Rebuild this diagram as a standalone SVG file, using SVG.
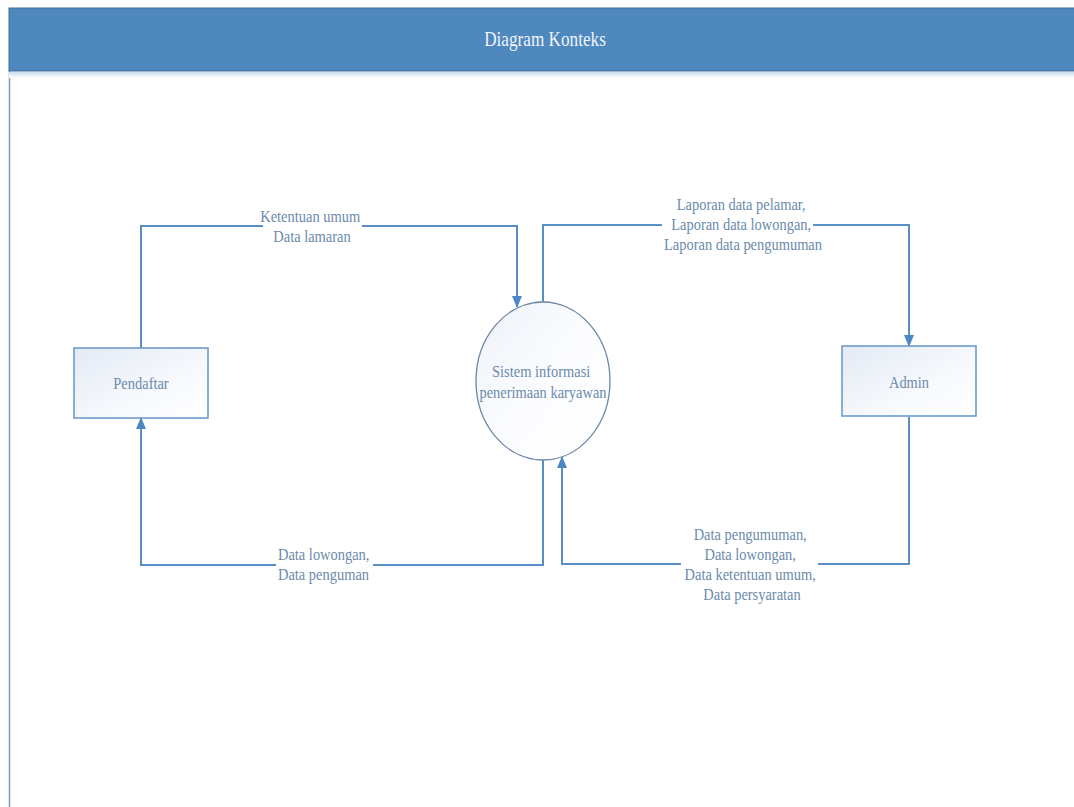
<svg xmlns="http://www.w3.org/2000/svg" width="1074" height="807" viewBox="0 0 1074 807">
  <style>
    text { font-family: 'Liberation Serif', Tinos, 'DejaVu Serif', serif; }
    .lbl { font-size: 17px; fill: #6b8bac; }
    .title { font-size: 20px; fill: #eef4fb; }
    .flow { fill: none; stroke: #5a8fc6; stroke-width: 2; }
    .entity { fill: url(#boxFill); stroke: #6f9cc9; stroke-width: 1.6; }
    .process { fill: url(#ovalFill); stroke: #6d87a4; stroke-width: 1.3; }
    .mask { fill: #ffffff; }
  </style>
  <defs>
    <linearGradient id="boxFill" x1="0" y1="0" x2="1" y2="1">
      <stop offset="0" stop-color="#e3eaf5"/>
      <stop offset="0.6" stop-color="#f7f9fd"/>
      <stop offset="1" stop-color="#ffffff"/>
    </linearGradient>
    <linearGradient id="ovalFill" x1="0" y1="0" x2="1" y2="1">
      <stop offset="0" stop-color="#edf2f9"/>
      <stop offset="0.5" stop-color="#fbfcfe"/>
      <stop offset="1" stop-color="#ffffff"/>
    </linearGradient>
    <linearGradient id="headShadow" x1="0" y1="0" x2="0" y2="1">
      <stop offset="0" stop-color="#c9dcef"/>
      <stop offset="1" stop-color="#ffffff"/>
    </linearGradient>
    <marker id="arrow" viewBox="0 0 12 10" refX="11" refY="5" markerWidth="6" markerHeight="5" markerUnits="strokeWidth" orient="auto">
      <path d="M0,0 L12,5 L0,10 Z" fill="#4d88c6"/>
    </marker>
  </defs>

  <rect x="0" y="0" width="1074" height="807" fill="#ffffff"/>

  <!-- swimlane frame with title bar -->
  <g id="frame">
    <line x1="9.5" y1="71" x2="9.5" y2="807" stroke="#7f9dbe" stroke-width="1.5"/>
    <rect x="9" y="72" width="1065" height="6" fill="url(#headShadow)"/>
    <rect x="9" y="8" width="1070" height="63" fill="#4f88bd" stroke="#3e6f9e" stroke-width="1"/>
    <text class="title" text-anchor="middle" transform="translate(545,46) scale(0.86,1)">Diagram Konteks</text>
  </g>

  <!-- data flows -->
  <g id="connectors">
    <path class="flow" d="M141,348 V226 H517 V307" marker-end="url(#arrow)"/>
    <path class="flow" d="M543,302 V225 H909 V346" marker-end="url(#arrow)"/>
    <path class="flow" d="M543,460 V565 H141 V418" marker-end="url(#arrow)"/>
    <path class="flow" d="M909,417 V564 H562 V457" marker-end="url(#arrow)"/>

    <rect class="mask" x="263" y="212" width="99" height="28"/>
    <text class="lbl" text-anchor="middle" transform="translate(312,222) scale(0.85,1)">
      <tspan x="0" y="0">Ketentuan umum</tspan>
      <tspan x="0" y="20">Data lamaran</tspan>
    </text>

    <rect class="mask" x="662" y="212" width="151" height="26"/>
    <text class="lbl" text-anchor="middle" transform="translate(743,210) scale(0.85,1)">
      <tspan x="0" y="0">Laporan data pelamar,</tspan>
      <tspan x="0" y="20">Laporan data lowongan,</tspan>
      <tspan x="0" y="40">Laporan data pengumuman</tspan>
    </text>

    <rect class="mask" x="276" y="561" width="97" height="8"/>
    <text class="lbl" transform="translate(278,560) scale(0.85,1)">
      <tspan x="0" y="0">Data lowongan,</tspan>
      <tspan x="0" y="20">Data penguman</tspan>
    </text>

    <rect class="mask" x="681" y="558" width="137" height="12"/>
    <text class="lbl" text-anchor="middle" transform="translate(752,540) scale(0.85,1)">
      <tspan x="0" y="0">Data pengumuman,</tspan>
      <tspan x="0" y="20">Data lowongan,</tspan>
      <tspan x="0" y="40">Data ketentuan umum,</tspan>
      <tspan x="0" y="60">Data persyaratan</tspan>
    </text>
  </g>

  <!-- external entity: applicant -->
  <g id="pendaftar">
    <rect class="entity" x="74" y="348" width="134" height="70"/>
    <text class="lbl" text-anchor="middle" transform="translate(141,389) scale(0.85,1)">Pendaftar</text>
  </g>

  <!-- central process -->
  <g id="sistem">
    <ellipse class="process" cx="543" cy="381" rx="67" ry="79"/>
    <text class="lbl" text-anchor="middle" transform="translate(543,377) scale(0.85,1)">
      <tspan x="0" y="0">Sistem informasi</tspan>
      <tspan x="0" y="21">penerimaan karyawan</tspan>
    </text>
  </g>

  <!-- external entity: administrator -->
  <g id="admin">
    <rect class="entity" x="842" y="346" width="134" height="70"/>
    <text class="lbl" text-anchor="middle" transform="translate(909,388) scale(0.85,1)">Admin</text>
  </g>
</svg>
